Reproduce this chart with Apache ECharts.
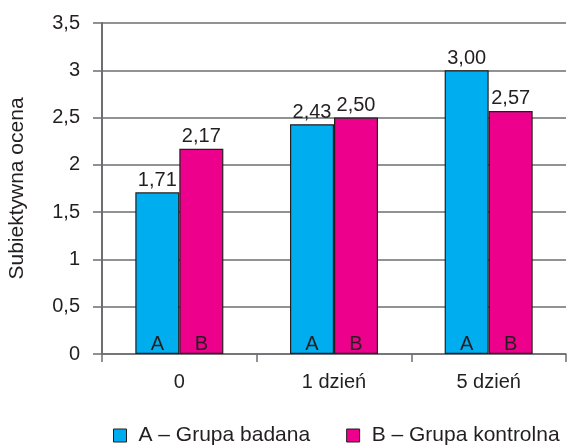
<!DOCTYPE html>
<html>
<head>
<meta charset="utf-8">
<script src="https://cdn.jsdelivr.net/npm/echarts@6/dist/echarts.min.js"></script>
<style>
  html, body { margin: 0; padding: 0; background: #fff; }
  #chart { width: 567px; height: 446px; }
</style>
</head>
<body>
<div id="chart"></div>
<script>
// Subjective score per day, two study groups
const categories = ['0', '1 dzień', '5 dzień'];
const groupA = [1.71, 2.43, 3.00];
const groupB = [2.17, 2.50, 2.57];
const seriesNames = ['A – Grupa badana', 'B – Grupa kontrolna'];
const barLetters = ['A', 'B'];
const yTicks = { min: 0, max: 3.5, interval: 0.5 };

const FONT = '"Liberation Sans", Arial, Helvetica, sans-serif';
const FS = 20;
const INK = '#231f20';
const GRID = '#6d6e71';
const comma = v => String(v).replace('.', ',');

const chart = echarts.init(document.getElementById('chart'), null, { renderer: 'canvas' });

function barSeries(name, data, color) {
  return {
    name: name,
    type: 'bar',
    data: data,
    barWidth: 44,
    barGap: '0%',
    itemStyle: { color: color, borderColor: INK, borderWidth: 1.2 },
    label: {
      show: true,
      position: 'top',
      distance: 2,
      formatter: p => p.value.toFixed(2).replace('.', ','),
      color: INK,
      fontFamily: FONT,
      fontSize: FS
    }
  };
}

// Letters at the foot of each bar, drawn as a label layer on transparent bars
function letterSeries(data, letter) {
  return {
    type: 'bar',
    data: data,
    xAxisIndex: 1,
    barWidth: 44,
    barGap: '0%',
    silent: true,
    itemStyle: { color: 'transparent' },
    label: {
      show: true,
      position: 'insideBottom',
      distance: 0,
      formatter: letter,
      color: INK,
      fontFamily: FONT,
      fontSize: FS
    }
  };
}

const catAxisBase = { type: 'category', data: categories, boundaryGap: true };

chart.setOption({
  animation: false,
  backgroundColor: '#ffffff',
  textStyle: { fontFamily: FONT },
  grid: { left: 102, right: 1, top: 23, bottom: 92, containLabel: false, outerBoundsMode: 'none' },
  legend: {
    top: 420,
    left: 108,
    itemWidth: 13,
    itemHeight: 13,
    itemGap: 36,
    icon: 'rect',
    data: seriesNames,
    itemStyle: { borderColor: INK, borderWidth: 1 },
    textStyle: { color: INK, fontSize: FS + 1, fontFamily: FONT, padding: [0, 0, 0, 7] }
  },
  xAxis: [
    Object.assign({}, catAxisBase, {
      axisLine: { lineStyle: { color: GRID, width: 1.5 } },
      axisTick: { show: true, length: 8, lineStyle: { color: GRID, width: 1.5 } },
      axisLabel: { color: INK, fontSize: FS, fontFamily: FONT, margin: 18 },
      splitLine: { show: false }
    }),
    Object.assign({}, catAxisBase, { show: false })
  ],
  yAxis: {
    type: 'value',
    min: yTicks.min,
    max: yTicks.max,
    interval: yTicks.interval,
    name: 'Subiektywna ocena',
    nameLocation: 'middle',
    nameGap: 74,
    nameTextStyle: { color: INK, fontSize: FS + 1, fontFamily: FONT },
    axisLine: { show: true, lineStyle: { color: GRID, width: 2 } },
    axisTick: { show: true, length: 9, lineStyle: { color: GRID, width: 1.5 } },
    axisLabel: { color: INK, fontSize: FS, fontFamily: FONT, margin: 22, formatter: v => comma(v) },
    splitLine: { show: true, lineStyle: { color: GRID, width: 1.5 } }
  },
  series: [
    barSeries(seriesNames[0], groupA, '#00aeef'),
    barSeries(seriesNames[1], groupB, '#ec008c'),
    letterSeries(groupA, barLetters[0]),
    letterSeries(groupB, barLetters[1])
  ]
});
</script>
</body>
</html>
